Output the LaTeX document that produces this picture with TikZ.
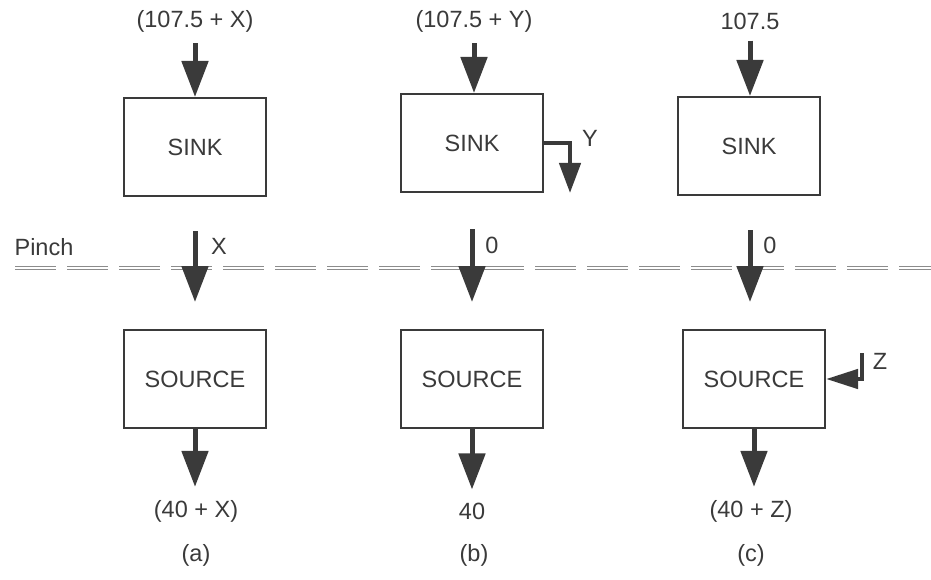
\documentclass[tikz,border=0pt]{standalone}
\usepackage{fontspec}
\setmainfont{Liberation Sans}
\usetikzlibrary{arrows.meta}
\definecolor{ink}{HTML}{3A3A3A}
\definecolor{dash}{HTML}{8C8C8C}
\begin{document}
\begin{tikzpicture}[x=1pt,y=-1pt,
  every node/.style={font=\fontsize{23.5}{26}\selectfont, text=ink},
  box/.style={draw=ink, line width=2pt, minimum width=142pt, minimum height=98pt, inner sep=0pt},
  lbl/.style={inner sep=1pt},
  bigarr/.style={draw=ink, line width=5pt, -{Triangle[length=36pt,width=26pt]}},
  sidearr/.style={draw=ink, line width=4.5pt, -{Triangle[length=30pt,width=21pt]}},
  pinchline/.style={draw=dash, double=white, double distance=1.2pt, line width=1.4pt, dash pattern=on 41pt off 11pt}
]
\useasboundingbox (0,0) rectangle (931,580);

% pinch line
\coordinate (pl) at (15,268);
\coordinate (pr) at (931,268);
\draw[pinchline] (pl) -- (pr);
\node[lbl] (pinch) at (44,247) {Pinch};

% column a
\node[lbl] (topA) at (195,21) {(107.5 + X)};
\node[box] (sinkA) at (195,147) {SINK};
\node[box] (sourceA) at (195,379) {SOURCE};
\node[lbl] (botA) at (196,511) {(40 + X)};
\node[lbl] (capA) at (196,555) {(a)};
\node[lbl] (xA) at (219,246) {X};
\draw[bigarr, shorten <=10pt] (topA.south) -- (topA.south |- sinkA.north);
\draw[bigarr, shorten <=34pt, shorten >=27pt] (sinkA.south) -- (sinkA.south |- sourceA.north);
\draw[bigarr, shorten >=12pt] (sourceA.south) -- (sourceA.south |- botA.north);

% column b
\node[lbl] (topB) at (474,21) {(107.5 + Y)};
\node[box] (sinkB) at (472,143) {SINK};
\node[box] (sourceB) at (472,379) {SOURCE};
\node[lbl] (botB) at (472,511) {40};
\node[lbl] (capB) at (474,555) {(b)};
\node[lbl] (zeroB) at (492,245) {0};
\node[lbl] (yB) at (590,138) {Y};
\coordinate (yEnd) at (570,193);
\draw[bigarr, shorten <=10pt] (topB.south) -- (topB.south |- sinkB.north);
\draw[bigarr, shorten <=36pt, shorten >=27pt] (sinkB.south) -- (sinkB.south |- sourceB.north);
\draw[bigarr, shorten >=12pt] (sourceB.south) -- (sourceB.south |- botB.north);
\draw[sidearr] (sinkB.east) -| (yEnd);

% column c
\node[lbl] (topC) at (750,21) {107.5};
\node[box] (sinkC) at (749,146) {SINK};
\node[box] (sourceC) at (754,379) {SOURCE};
\node[lbl] (botC) at (751,511) {(40 + Z)};
\node[lbl] (capC) at (751,555) {(c)};
\node[lbl] (zeroC) at (770,245) {0};
\node[lbl] (zC) at (880,361) {Z};
\coordinate (zStart) at (862,353);
\draw[bigarr, shorten <=10pt] (topC.south) -- (topC.south |- sinkC.north);
\draw[bigarr, shorten <=34pt, shorten >=27pt] (topC.south |- sinkC.south) -- (topC.south |- sourceC.north);
\draw[bigarr, shorten >=12pt] (sourceC.south) -- (sourceC.south |- botC.north);
\draw[draw=ink, line width=4.5pt, -{Triangle[length=32pt,width=19pt]}] (zStart) |- (sourceC.east);
\end{tikzpicture}
\end{document}
